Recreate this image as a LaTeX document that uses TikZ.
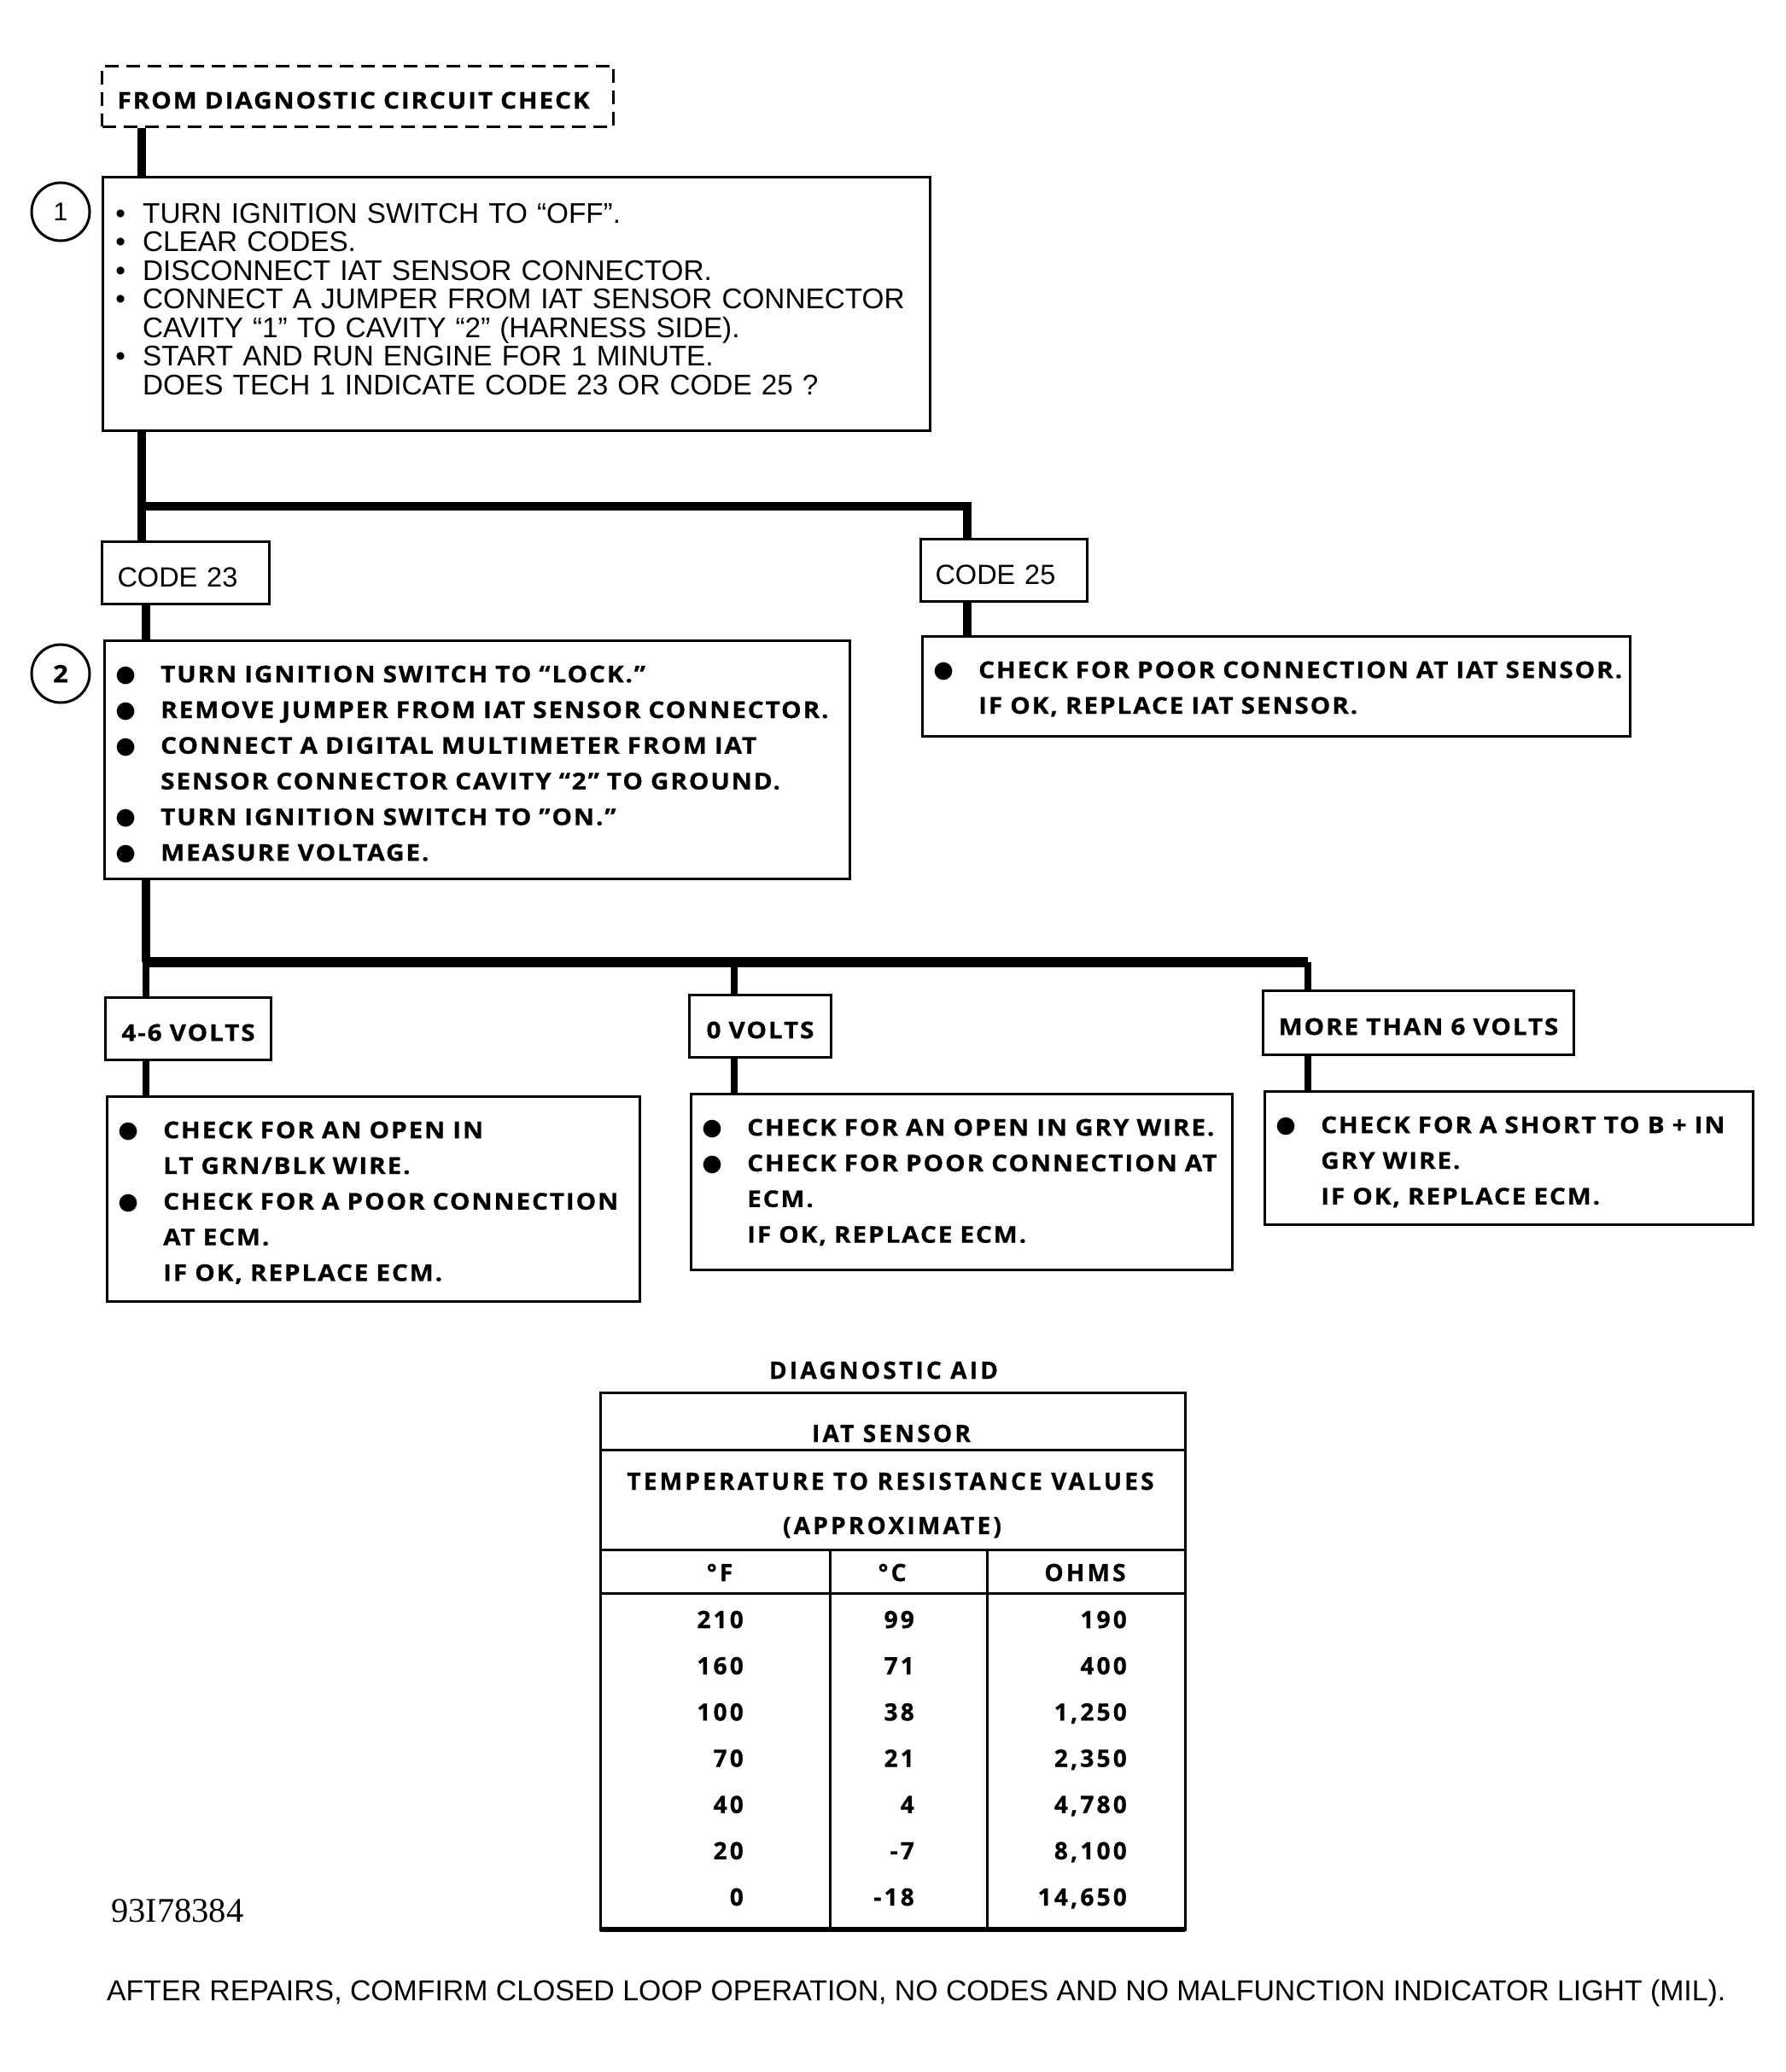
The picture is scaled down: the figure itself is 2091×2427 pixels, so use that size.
\documentclass[tikz,border=0pt]{standalone}
\usepackage{fontspec}
\setmainfont{Liberation Sans}
\newfontfamily\bfam{Open Sans}[FakeStretch=1.1,LetterSpace=7,FakeBold=0.8]
\newfontfamily\tfam{Open Sans}[LetterSpace=11.5,FakeBold=0.8]
\newfontfamily\serf{Liberation Serif}
\newfontfamily\djv{DejaVu Sans}
\newcommand\BBul{\raisebox{0.5pt}{\djv\fontsize{27}{27}\selectfont ●}}
\newcommand\ritem{\hspace*{22pt}\makebox[0pt][c]{\textbullet}\hspace*{26pt}}
\newcommand\rind{\hspace*{48pt}}
\newcommand\bitem{\hspace*{26pt}\makebox[0pt][c]{\BBul}\hspace*{41pt}}
\newcommand\bind{\hspace*{67pt}}
\newcommand\topstrut{\rule{0pt}{30pt}}
\begin{document}
\begin{tikzpicture}[x=1pt,y=-1pt,
  every node/.style={inner sep=0pt},
  boxed/.style={draw, line width=3pt, anchor=north west, inner xsep=0pt, inner ysep=0pt},
  txt/.style={anchor=north west, align=left},
  rfont/.style={font={\fontsize{33.3}{33.53}\selectfont}},
  cfont/.style={font={\fontsize{32.5}{33}\selectfont}, text height=32.3pt, text depth=0pt},
  bfont/.style={font={\bfam\bfseries\fontsize{27}{41.8}\selectfont}},
  blab/.style={bfont, text height=28.3pt, text depth=0pt},
  tfont/.style={font={\tfam\bfseries\fontsize{28}{30}\selectfont}},
  mainln/.style={line width=10pt},
  barln/.style={line width=12pt},
  subln/.style={line width=8pt},
  tabln/.style={line width=3pt},
  tnum/.style={tfont, text height=20pt, text depth=0pt},
  numcirc/.style={circle, draw, line width=3pt, minimum size=68pt, inner sep=0pt}]
\useasboundingbox (0,0) rectangle (2091,2427);

% start box
\node[boxed, dash pattern=on 16pt off 9pt, blab, align=left, minimum width=599, minimum height=71, inner xsep=18pt, text width=563] (start) at (118,76) {FROM DIAGNOSTIC CIRCUIT CHECK};

% step 1
\node[numcirc, font={\fontsize{30}{30}\selectfont}] (n1) at (71,248) {1};
\node[boxed, minimum width=969, minimum height=297] (box1) at (119,206) {};
\node[txt, rfont, text width=960] (box1t) at (119,231) {%
\topstrut\ritem TURN IGNITION SWITCH TO “OFF”.\\
\ritem CLEAR CODES.\\
\ritem DISCONNECT IAT SENSOR CONNECTOR.\\
\ritem CONNECT A JUMPER FROM IAT SENSOR CONNECTOR\\
\rind CAVITY “1” TO CAVITY “2” (HARNESS SIDE).\\
\ritem START AND RUN ENGINE FOR 1 MINUTE.\\
\rind DOES TECH 1 INDICATE CODE 23 OR CODE 25 ?};

\node[boxed, cfont, align=left, minimum width=196, minimum height=73, inner xsep=18pt, text width=160] (code23) at (118,633) {CODE 23};
\node[boxed, cfont, align=left, minimum width=195, minimum height=73, inner xsep=17pt, text width=161] (code25) at (1077,630) {CODE 25};

% step 2
\node[numcirc, font={\bfam\bfseries\fontsize{28}{28}\selectfont}] (n2) at (71,789) {2};
\node[boxed, minimum width=873, minimum height=279] (box2) at (121,749) {};
\node[txt, bfont, text width=870] (box2t) at (121,769) {%
\topstrut\bitem TURN IGNITION SWITCH TO “LOCK.”\\
\bitem REMOVE JUMPER FROM IAT SENSOR CONNECTOR.\\
\bitem CONNECT A DIGITAL MULTIMETER FROM IAT\\
\bind SENSOR CONNECTOR CAVITY “2” TO GROUND.\\
\bitem TURN IGNITION SWITCH TO ”ON.”\\
\bitem MEASURE VOLTAGE.};

\node[boxed, minimum width=829, minimum height=117] (box25) at (1079,744) {};
\node[txt, bfont, text width=826] (box25t) at (1079,764) {%
\topstrut\bitem CHECK FOR POOR CONNECTION AT IAT SENSOR.\\
\bind IF OK, REPLACE IAT SENSOR.};

% voltage results
\node[boxed, blab, align=center, minimum width=194, minimum height=73, text width=194] (v46) at (122,1167) {4-6 VOLTS};
\node[boxed, blab, align=center, minimum width=166, minimum height=73, text width=166] (v0) at (806,1164) {0 VOLTS};
\node[boxed, blab, align=center, minimum width=364, minimum height=75, text width=364] (vmore) at (1478,1159) {MORE THAN 6 VOLTS};

\node[boxed, minimum width=624, minimum height=240] (b46) at (124,1283) {};
\node[txt, bfont, text width=620] (b46t) at (124,1303) {%
\topstrut\bitem CHECK FOR AN OPEN IN\\
\bind LT GRN/BLK WIRE.\\
\bitem CHECK FOR A POOR CONNECTION\\
\bind AT ECM.\\
\bind IF OK, REPLACE ECM.};
\node[boxed, minimum width=634, minimum height=206] (b0) at (808,1280) {};
\node[txt, bfont, text width=630] (b0t) at (808,1300) {%
\topstrut\bitem CHECK FOR AN OPEN IN GRY WIRE.\\
\bitem CHECK FOR POOR CONNECTION AT\\
\bind ECM.\\
\bind IF OK, REPLACE ECM.};
\node[boxed, minimum width=572, minimum height=156] (bmore) at (1480,1277) {};
\node[txt, bfont, text width=568] (bmoret) at (1480,1297) {%
\topstrut\bitem CHECK FOR A SHORT TO B + IN\\
\bind GRY WIRE.\\
\bind IF OK, REPLACE ECM.};

% connectors
\coordinate (xa) at (166,0);
\coordinate (xb) at (171,0);
\coordinate (xc) at (1133,0);
\coordinate (xe) at (860,0);
\coordinate (xf) at (1532,0);
\coordinate (ja) at (166,593);
\coordinate (jb) at (171,1127);
\draw[mainln] (start.south -| xa) -- (box1.north -| xa);
\draw[mainln] (box1.south -| xa) -- (code23.north -| xa);
\draw[mainln] (ja) -| (code25.north -| xc);
\draw[mainln] (code23.south -| xb) -- (box2.north -| xb);
\draw[mainln] (code25.south -| xc) -- (box25.north -| xc);
\draw[mainln] (box2.south -| xb) -- (jb);
\draw[barln] (jb) -- (jb -| xf);
\draw[subln] (jb) -- (v46.north -| xb);
\draw[subln] (jb -| xe) -- (v0.north -| xe);
\draw[subln] (jb -| xf) -- (vmore.north -| xf);
\draw[subln] (v46.south -| xb) -- (b46.north -| xb);
\draw[subln] (v0.south -| xe) -- (b0.north -| xe);
\draw[subln] (vmore.south -| xf) -- (bmore.north -| xf);

% diagnostic aid table
\node[tfont] (aid) at (1035,1605) {DIAGNOSTIC AID};
\draw[tabln] (703,1631) rectangle (1388,2260);
\draw[tabln] (703,1698) -- (1388,1698);
\draw[tabln] (703,1815) -- (1388,1815);
\draw[tabln] (703,1866) -- (1388,1866);
\draw[tabln] (972,1815) -- (972,2260);
\draw[tabln] (1156,1815) -- (1156,2260);
\draw[line width=6pt] (703,2260) -- (1388,2260);
\node[tfont] (iat) at (1044,1679) {IAT SENSOR};
\node[tfont] (temp) at (1043,1735) {TEMPERATURE TO RESISTANCE VALUES};
\node[tfont] (approx) at (1045,1789) {(APPROXIMATE)};
\node[tnum] (hf) at (843,1842) {°F};
\node[tnum] (hc) at (1045,1842) {°C};
\node[tnum] (ho) at (1271,1842) {OHMS};
\foreach \f/\c/\o [count=\i] in {{210/99/190},{160/71/400},{100/38/1,250},{70/21/2,350},{40/4/4,780},{20/-7/8,100},{0/-18/14,650}} {
  \pgfmathsetmacro\yy{1897+(\i-1)*54.17}
  \node[tnum, anchor=east] (f\i) at (871,\yy) {\f};
  \node[tnum, anchor=east] (c\i) at (1071,\yy) {\c};
  \node[tnum, anchor=east] (o\i) at (1320,\yy) {\o};
}

\node[anchor=west, font={\serf\fontsize{40.5}{40.5}\selectfont}] (fig) at (130,2238) {93I78384};
\node[anchor=west, font={\fontsize{33.8}{34}\selectfont}] (foot) at (125,2335) {AFTER REPAIRS, COMFIRM CLOSED LOOP OPERATION, NO CODES AND NO MALFUNCTION INDICATOR LIGHT (MIL).};
\end{tikzpicture}
\end{document}
